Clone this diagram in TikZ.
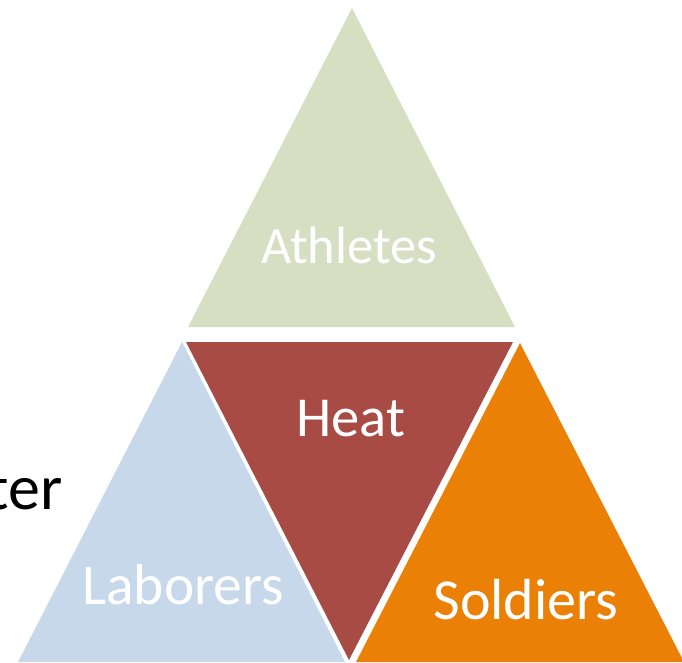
\documentclass[tikz,border=0pt]{standalone}
\usepackage{fontspec}
\setmainfont{Carlito}
\definecolor{athgreen}{RGB}{214,223,193}
\definecolor{heatred}{RGB}{168,75,69}
\definecolor{labblue}{RGB}{198,216,234}
\definecolor{soldorange}{RGB}{235,128,6}
\tikzset{
  lbl/.style={text=white, anchor=base, inner sep=0pt},
}
\begin{document}
\begin{tikzpicture}[x=1pt,y=-1pt]
\useasboundingbox (0,0) rectangle (682,662);
\begin{scope}
\clip (0,0) rectangle (682,662);
\fill[athgreen] (352,8) -- (188,327) -- (515,327) -- cycle;
\fill[heatred] (186,342) -- (513,342) -- (349,660) -- cycle;
\fill[labblue] (182,342) -- (18,662) -- (345,662) -- cycle;
\fill[soldorange] (520,343) -- (356,662) -- (684,662) -- cycle;
\end{scope}
\node[lbl, font=\fontsize{52.5}{62}\selectfont] (ath) at (349,263) {Athletes};
\node[lbl, font=\fontsize{56.5}{66}\selectfont] (heat) at (351,436) {Heat};
\node[lbl, font=\fontsize{57.5}{68}\selectfont] (lab) at (183,604) {Laborers};
\node[lbl, font=\fontsize{58}{68}\selectfont] (sol) at (526,619) {Soldiers};
\node[anchor=base east, inner sep=0pt, font=\fontsize{64}{74}\selectfont] (ter) at (63,509) {ter};
\end{tikzpicture}
\end{document}
